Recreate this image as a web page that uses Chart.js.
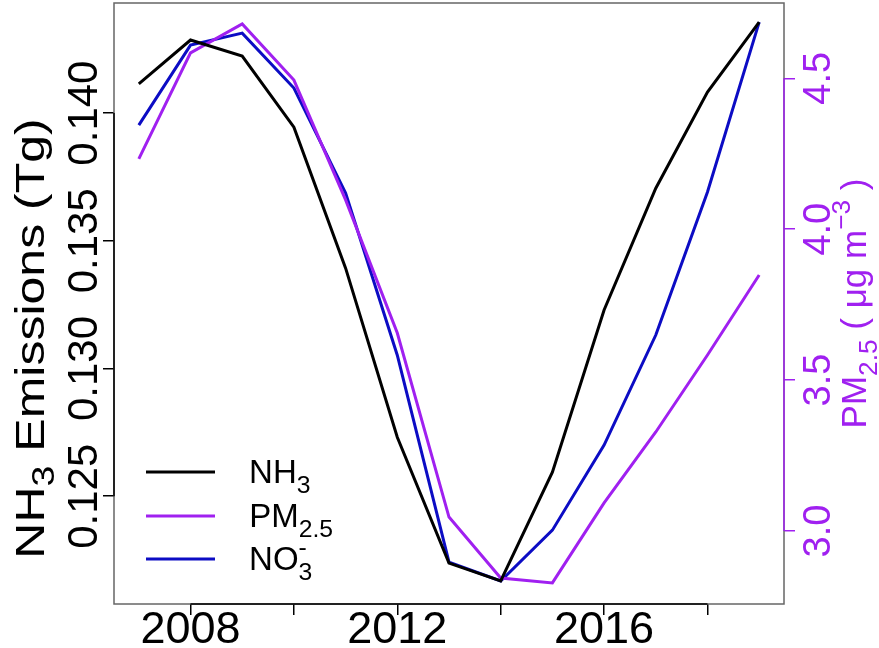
<!DOCTYPE html>
<html>
<head>
<meta charset="utf-8">
<script src="https://cdn.jsdelivr.net/npm/chart.js@4.4.0/dist/chart.umd.min.js"></script>
<style>
  html, body { margin: 0; padding: 0; background: #fff; }
  #wrap { width: 879px; height: 648px; }
</style>
</head>
<body>
<div id="wrap"><canvas id="chart" width="879" height="648"></canvas></div>
<script>
// data
const years = [2007, 2008, 2009, 2010, 2011, 2012, 2013, 2014, 2015, 2016, 2017, 2018, 2019];
const nh3  = [0.14114, 0.14286, 0.14223, 0.13945, 0.13393, 0.12731, 0.12238, 0.12168, 0.12594, 0.13229, 0.13706, 0.14082, 0.14356];
const pm25 = [4.233, 4.584, 4.680, 4.494, 4.097, 3.656, 3.046, 2.844, 2.828, 3.093, 3.328, 3.583, 3.848];
// NO3- has no axis of its own in the figure; values given in NH3 axis units
const no3  = [0.13953, 0.14266, 0.14313, 0.14098, 0.13687, 0.13052, 0.12242, 0.12168, 0.12367, 0.12700, 0.13131, 0.13691, 0.14356];

const xTicks = [2008, 2010, 2012, 2014, 2016, 2018];
const xLabels = ['2008', '', '2012', '', '2016', ''];
const leftTicks = [0.125, 0.130, 0.135, 0.140];
const leftLabels = ['0.125', '0.130', '0.135', '0.140'];
const rightTicks = [3.0, 3.5, 4.0, 4.5];
const rightLabels = ['3.0', '3.5', '4.0', '4.5'];

const FONT = '"Liberation Sans", Arial, sans-serif';
const PURPLE = '#A020F0';
const BLUE = '#0c0cc4';

let pts = (vals) => years.map((yr, i) => ({x: yr, y: vals[i]}));

// draw text with sub/superscript pieces, centred on (0,0) of current transform
function richText(ctx, parts, size, color, subOff) {
    ctx.fillStyle = color;
    ctx.textBaseline = 'alphabetic';
    ctx.textAlign = 'left';
    let total = 0;
    parts.forEach(p => {
        ctx.font = (p.s ? size * 0.75 : size) + 'px ' + FONT;
        p.w = ctx.measureText(p.t).width;
        if (!p.stack) total += p.w;
    });
    let x = -total / 2;
    parts.forEach(p => {
        ctx.font = (p.s ? size * 0.75 : size) + 'px ' + FONT;
        let dy = 0;
        if (p.s == 'sub') dy = size * (subOff || 0.3);
        if (p.s == 'sup') dy = -size * 0.45;
        if (p.stack) {
            ctx.fillText(p.t, x - p.stackW, dy);
        } else {
            ctx.fillText(p.t, x, dy);
            x += p.w;
        }
    });
}

const decor = {
    id: 'decor',
    afterDraw(chart) {
        const ctx = chart.ctx;
        const a = chart.chartArea;
        const sy = chart.scales.y, sy2 = chart.scales.y2, sx = chart.scales.x;
        ctx.save();
        // box
        ctx.strokeStyle = '#666';
        ctx.lineWidth = 1.5;
        ctx.strokeRect(a.left, a.top, a.right - a.left, a.bottom - a.top);
        // axis lines
        ctx.strokeStyle = '#000';
        ctx.beginPath();
        ctx.moveTo(a.left, sy.getPixelForValue(leftTicks[0]));
        ctx.lineTo(a.left, sy.getPixelForValue(leftTicks[leftTicks.length - 1]));
        ctx.moveTo(sx.getPixelForValue(xTicks[0]), a.bottom);
        ctx.lineTo(sx.getPixelForValue(xTicks[xTicks.length - 1]), a.bottom);
        ctx.stroke();
        ctx.strokeStyle = PURPLE;
        ctx.beginPath();
        ctx.moveTo(a.right, sy2.getPixelForValue(rightTicks[0]));
        ctx.lineTo(a.right, sy2.getPixelForValue(rightTicks[rightTicks.length - 1]));
        ctx.stroke();

        ctx.textAlign = 'center';
        ctx.textBaseline = 'alphabetic';
        // x tick labels
        ctx.font = '45px ' + FONT;
        ctx.fillStyle = '#000';
        xTicks.forEach((v, i) => {
            ctx.fillText(xLabels[i], sx.getPixelForValue(v), 643);
        });
        // left tick labels, rotated
        ctx.font = '42px ' + FONT;
        leftTicks.forEach((v, i) => {
            ctx.save();
            ctx.translate(97, sy.getPixelForValue(v));
            ctx.rotate(-Math.PI / 2);
            ctx.fillText(leftLabels[i], 0, 0);
            ctx.restore();
        });
        // right tick labels
        ctx.font = '38px ' + FONT;
        ctx.fillStyle = PURPLE;
        rightTicks.forEach((v, i) => {
            ctx.save();
            ctx.translate(830, sy2.getPixelForValue(v));
            ctx.rotate(-Math.PI / 2);
            ctx.fillText(rightLabels[i], 0, 0);
            ctx.restore();
        });

        let midY = (a.top + a.bottom) / 2;
        // left title (glyphs a little narrower than plain Liberation, as in the figure)
        ctx.save();
        ctx.translate(44, midY + 35);
        ctx.rotate(-Math.PI / 2);
        ctx.scale(1, 0.82);
        richText(ctx, [{t: 'NH'}, {t: '3', s: 'sub'}, {t: ' Emissions (Tg)'}], 50, '#000', 0.24);
        ctx.restore();
        // right title
        ctx.save();
        ctx.translate(866, midY);
        ctx.rotate(-Math.PI / 2);
        richText(ctx, [{t: 'PM'}, {t: '2.5', s: 'sub'}, {t: ' ( \u03bcg m'}, {t: '\u22123', s: 'sup'}, {t: ' )'}], 35, PURPLE);
        ctx.restore();

        // legend
        const leg = [
            {c: '#000', y: 472, parts: [{t: 'NH'}, {t: '3', s: 'sub'}]},
            {c: PURPLE, y: 516, parts: [{t: 'PM'}, {t: '2.5', s: 'sub'}]},
            {c: BLUE, y: 559, parts: [{t: 'NO'}, {t: '3', s: 'sub'}, {t: '-', s: 'sup', stack: true}]}
        ];
        leg.forEach(l => {
            ctx.strokeStyle = l.c;
            ctx.lineWidth = 3;
            ctx.beginPath();
            ctx.moveTo(146, l.y);
            ctx.lineTo(215, l.y);
            ctx.stroke();
            ctx.save();
            let w = 0;
            l.parts.forEach(p => {
                ctx.font = (p.s ? 25 : 33) + 'px ' + FONT;
                let pw = ctx.measureText(p.t).width;
                if (p.stack) p.stackW = ctx.measureText('3').width;
                else w += pw;
            });
            ctx.translate(249 + w / 2, l.y + 11);
            richText(ctx, l.parts, 33, '#000');
            ctx.restore();
        });
        ctx.restore();
    }
};

new Chart(document.getElementById('chart'), {
    type: 'line',
    data: {
        datasets: [
            {label: 'NH3', data: pts(nh3), borderColor: '#000', borderWidth: 3, pointRadius: 0, yAxisID: 'y'},
            {label: 'PM2.5', data: pts(pm25), borderColor: PURPLE, borderWidth: 3, pointRadius: 0, yAxisID: 'y2'},
            {label: 'NO3-', data: pts(no3), borderColor: BLUE, borderWidth: 3, pointRadius: 0, yAxisID: 'y3'}
        ]
    },
    options: {
        responsive: false,
        animation: false,
        layout: {padding: {top: 3, left: 0, right: 0, bottom: 0}},
        plugins: {legend: {display: false}, tooltip: {enabled: false}},
        scales: {
            x: {
                type: 'linear', position: 'bottom',
                min: 2006.52, max: 2019.48,
                afterBuildTicks: s => { s.ticks = xTicks.map(v => ({value: v})); },
                afterFit: s => { s.height = 44; },
                ticks: {display: false},
                grid: {drawOnChartArea: false, tickLength: 11, color: '#000', lineWidth: 1.5},
                border: {display: false}
            },
            y: {
                position: 'left', min: 0.12078, max: 0.14431,
                afterBuildTicks: s => { s.ticks = leftTicks.map(v => ({value: v})); },
                afterFit: s => { s.width = 114; },
                ticks: {display: false},
                grid: {drawOnChartArea: false, tickLength: 11, color: '#000', lineWidth: 1.5},
                border: {display: false}
            },
            y2: {
                position: 'right', min: 2.758, max: 4.7495,
                afterBuildTicks: s => { s.ticks = rightTicks.map(v => ({value: v})); },
                afterFit: s => { s.width = 95; },
                ticks: {display: false},
                grid: {drawOnChartArea: false, tickLength: 11, color: PURPLE, lineWidth: 1.5},
                border: {display: false}
            },
            y3: {display: false, min: 0.12078, max: 0.14431}
        }
    },
    plugins: [decor]
});
</script>
</body>
</html>
